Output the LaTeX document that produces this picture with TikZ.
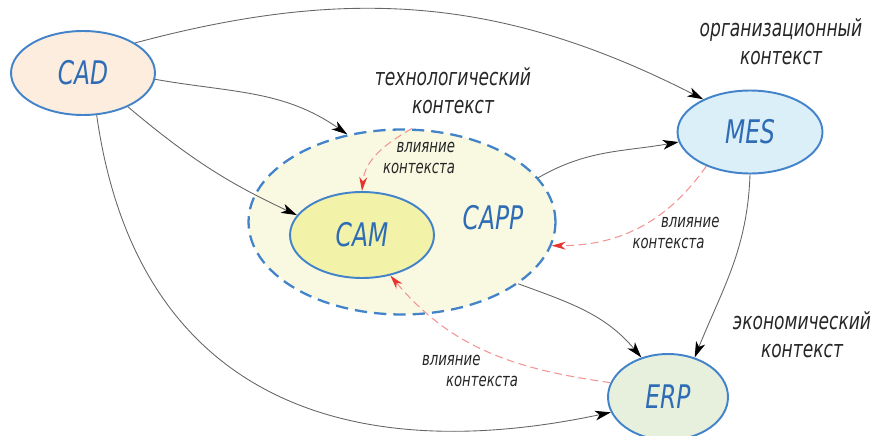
\documentclass[tikz,border=0pt]{standalone}
\usepackage{fontspec}
\setmainfont{DejaVu Sans Condensed}[FakeStretch=0.8]
\usetikzlibrary{arrows.meta}
\usetikzlibrary{shapes.geometric}

\definecolor{sysblue}{HTML}{4283C9}
\definecolor{textblue}{HTML}{2E6CB6}
\definecolor{cadfill}{HTML}{FCEDDF}
\definecolor{mesfill}{HTML}{DBEFF8}
\definecolor{cappfill}{HTML}{F9F9E2}
\definecolor{camfill}{HTML}{F2F2A9}
\definecolor{erpfill}{HTML}{E7F0DD}
\definecolor{inflline}{HTML}{F29494}
\definecolor{infltip}{HTML}{E8342E}

\tikzset{
  sysnode/.style={ellipse, draw=sysblue, line width=1.1pt, text=textblue, inner sep=0pt,
    font=\itshape\fontsize{18.5}{20}\selectfont},
  ctxlabel/.style={align=center, text=black!85, font=\itshape\fontsize{13.5}{15.8}\selectfont},
  inflabel/.style={text=black!85, font=\itshape\fontsize{10.5}{11.5}\selectfont},
  flow/.style={draw=black!60, line width=0.5pt, -{Stealth[black, length=9pt, width=5.5pt, inset=2.5pt]}},
  influence/.style={draw=inflline, line width=0.6pt, dash pattern=on 4.5pt off 2.5pt,
    -{Stealth[infltip, length=8pt, width=4.5pt, inset=2.5pt]}}
}

\begin{document}
\begin{tikzpicture}[x=0.02cm, y=0.02cm]
  \useasboundingbox (0,0) rectangle (872,-436);

  % systems
  \node[sysnode, fill=cadfill, minimum width=2.88cm, minimum height=1.68cm] (cad) at (83,-73) {CAD};
  \node[sysnode, fill=mesfill, minimum width=2.9cm, minimum height=1.66cm] (mes) at (750,-132) {MES};
  \node[sysnode, fill=cappfill, line width=1.3pt, dash pattern=on 7pt off 4pt,
        minimum width=6.14cm, minimum height=3.7cm] (capp) at (402,-222) {};
  \node[text=textblue, font=\itshape\fontsize{18.5}{20}\selectfont] (cappname) at (493,-218) {CAPP};
  \node[sysnode, fill=camfill, minimum width=2.88cm, minimum height=1.72cm] (cam) at (362,-235) {CAM};
  \node[sysnode, fill=erpfill, minimum width=2.4cm, minimum height=1.72cm] (erp) at (668,-397) {ERP};

  % contexts
  \node[ctxlabel] (techctx) at (453,-91) {технологический\\контекст};
  \node[ctxlabel] (orgctx) at (781,-42) {организационный\\контекст};
  \node[ctxlabel] (ecoctx) at (802,-335) {экономический\\контекст};

  \node[inflabel, align=right] (inflcam) at (419,-158) {влияние\\контекста};
  \node[inflabel, align=right] (inflmes) at (676,-233) {влияние\\контекста\hspace*{0.3cm}};
  \node[inflabel, align=left] (inflerp) at (470,-371) {влияние\\\hspace*{0.48cm}контекста};

  % data flows
  \draw[flow] (cad.30) to[out=15, in=153] (mes.145);
  \draw[flow] (cad.-5) to[out=-10, in=145] (capp.122);
  \draw[flow] (cad.-37) to[out=-40, in=155] (cam.163);
  \draw[flow] (cad.-72) to[out=-82, in=192, looseness=1.2] (erp.195);
  \draw[flow] (capp.18) to[out=30, in=190] (mes.188);
  \draw[flow] (capp.-28) to[out=-20, in=130] (erp.124);
  \draw[flow] (mes.-90) to[out=-92, in=68] (erp.56);

  % context influence
  \draw[influence] (capp.84) to[out=210, in=85] (cam.north);
  \draw[influence] (mes.218) to[out=235, in=0] (capp.-9);
  \draw[influence] (erp.166) to[out=172, in=-50] (cam.-55);

\end{tikzpicture}
\end{document}
